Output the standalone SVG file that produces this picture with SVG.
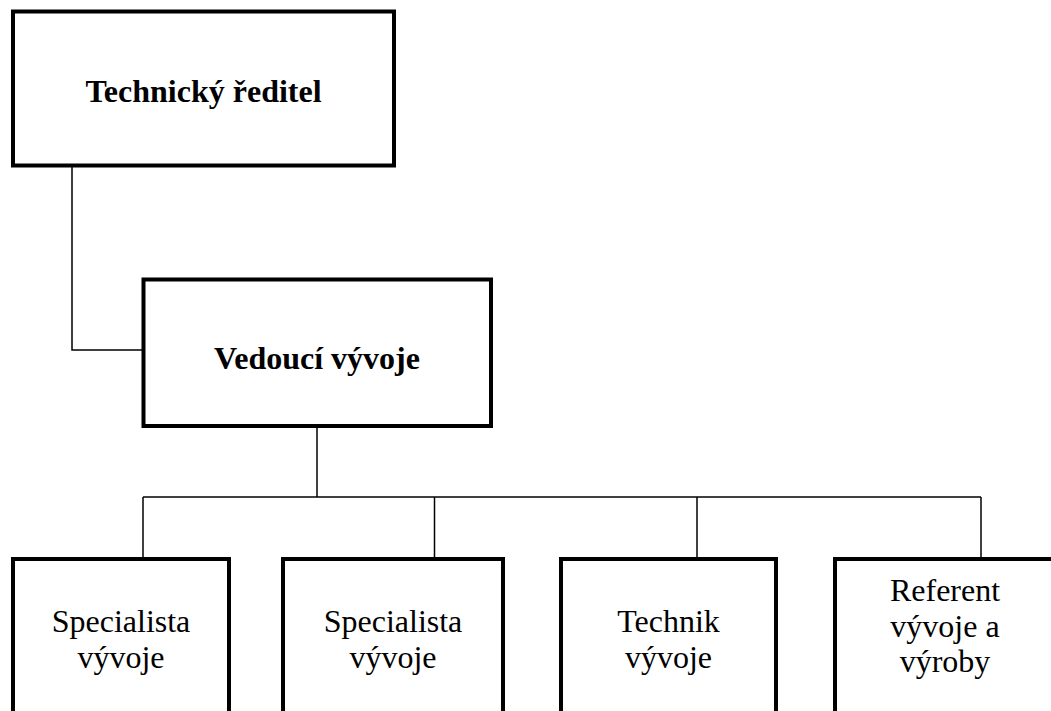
<svg xmlns="http://www.w3.org/2000/svg" width="1051" height="711" viewBox="0 0 1051 711">
<style>
.box{fill:#fff;stroke:#000;stroke-width:4}
.con{fill:none;stroke:#000;stroke-width:1.5}
text{font-family:"Liberation Serif","Times New Roman",serif;font-size:32px;fill:#000;text-anchor:middle}
.b{font-weight:bold}
</style>
<rect width="1051" height="711" fill="#fff"/>
<g id="connectors">
<polyline class="con" points="72,166 72,350 143,350"/>
<line class="con" x1="317" y1="426" x2="317" y2="497"/>
<line class="con" x1="143" y1="497" x2="981" y2="497"/>
<line class="con" x1="143" y1="497" x2="143" y2="559"/>
<line class="con" x1="434.5" y1="497" x2="434.5" y2="559"/>
<line class="con" x1="697" y1="497" x2="697" y2="559"/>
<line class="con" x1="981" y1="497" x2="981" y2="559"/>
</g>
<g id="technicky-reditel">
<rect class="box" x="13" y="11.5" width="381" height="154"/>
<text class="b" x="203.5" y="102">Technický ředitel</text>
</g>
<g id="vedouci-vyvoje">
<rect class="box" x="143.5" y="279.5" width="347.5" height="146.5"/>
<text class="b" x="317" y="369">Vedoucí vývoje</text>
</g>
<g id="specialista-1">
<rect class="box" x="13" y="559" width="216" height="170"/>
<text x="121" y="632">Specialista</text>
<text x="121" y="668">vývoje</text>
</g>
<g id="specialista-2">
<rect class="box" x="283" y="559" width="220" height="170"/>
<text x="393" y="632">Specialista</text>
<text x="393" y="668">vývoje</text>
</g>
<g id="technik">
<rect class="box" x="561" y="559" width="215" height="170"/>
<text x="668.5" y="632">Technik</text>
<text x="668.5" y="668">vývoje</text>
</g>
<g id="referent">
<rect class="box" x="835" y="559" width="220" height="170"/>
<text x="945" y="601">Referent</text>
<text x="945" y="636.5">vývoje a</text>
<text x="945" y="672">výroby</text>
</g>
</svg>
